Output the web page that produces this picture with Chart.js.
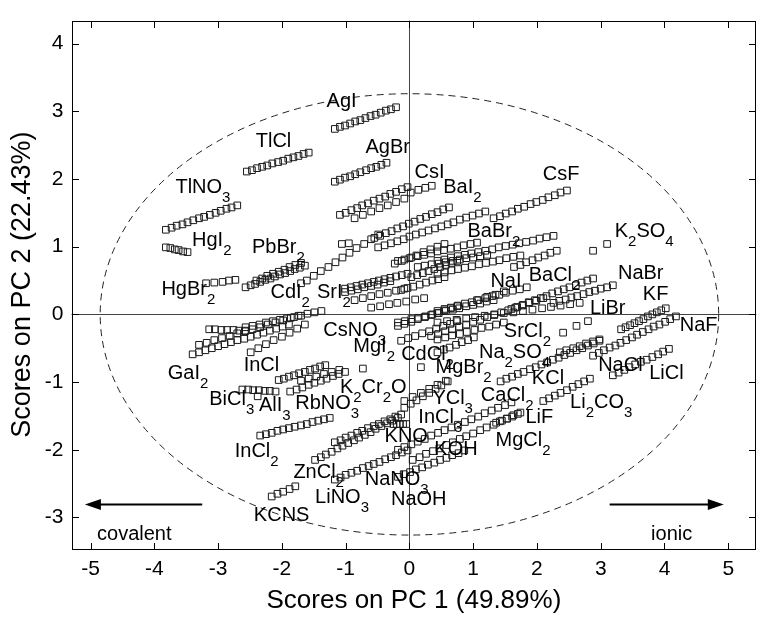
<!DOCTYPE html>
<html>
<head>
<meta charset="utf-8">
<script src="https://cdn.jsdelivr.net/npm/chart.js@4.4.1/dist/chart.umd.min.js"></script>
<style>
  html, body { margin: 0; padding: 0; background: #fff; }
  #wrap { width: 762px; height: 620px; }
</style>
</head>
<body>
<div id="wrap"><canvas id="pca" width="762" height="620"></canvas></div>
<script>
// axes
const xTicks = [-5, -4, -3, -2, -1, 0, 1, 2, 3, 4, 5];
const yTicks = [-3, -2, -1, 0, 1, 2, 3, 4];
const xRange = [-5.3, 5.44];
const yRange = [-3.46, 4.34];

// scores (PC1, PC2)
const sAgI = [[-1.17,2.74],[-1.09,2.77],[-1.01,2.79],[-0.93,2.82],[-0.85,2.85],[-0.77,2.87],[-0.69,2.90],[-0.61,2.93],[-0.53,2.95],[-0.45,2.98],[-0.37,3.01],[-0.29,3.03],[-0.21,3.06]];
const sTlCl = [[-2.55,2.11],[-2.47,2.13],[-2.39,2.16],[-2.31,2.18],[-2.23,2.20],[-2.15,2.23],[-2.06,2.25],[-1.98,2.27],[-1.90,2.30],[-1.82,2.32],[-1.74,2.34],[-1.66,2.37],[-1.58,2.39]];
const sAgBr = [[-1.17,1.96],[-1.09,1.99],[-1.01,2.02],[-0.93,2.04],[-0.85,2.07],[-0.77,2.10],[-0.68,2.13],[-0.60,2.16],[-0.52,2.18],[-0.44,2.21],[-0.36,2.24]];
const sTlNO3 = [[-3.82,1.25],[-3.73,1.28],[-3.65,1.31],[-3.56,1.33],[-3.48,1.36],[-3.39,1.39],[-3.30,1.42],[-3.22,1.44],[-3.13,1.47],[-3.04,1.50],[-2.96,1.53],[-2.87,1.56],[-2.79,1.58],[-2.70,1.61]];
const sHgI2 = [[-3.82,0.99],[-3.75,0.98],[-3.68,0.96],[-3.62,0.95],[-3.55,0.93],[-3.48,0.92]];
const sHgBr2 = [[-3.19,0.46],[-3.06,0.47],[-2.93,0.48],[-2.83,0.50],[-2.73,0.51]];
const sPbBr2a = [[-2.57,0.40],[-2.49,0.43],[-2.42,0.45],[-2.34,0.48],[-2.26,0.51],[-2.18,0.53],[-2.11,0.56],[-2.03,0.59],[-1.95,0.61],[-1.87,0.64],[-1.80,0.67],[-1.72,0.69],[-1.64,0.72]];
const sPbBr2b = [[-2.40,0.50],[-2.31,0.53],[-2.23,0.57],[-2.14,0.60],[-2.05,0.63],[-1.96,0.66],[-1.88,0.70],[-1.79,0.73],[-1.70,0.76]];
const sCsI = [[-1.09,1.47],[-1.00,1.50],[-0.91,1.54],[-0.82,1.57],[-0.74,1.61],[-0.65,1.64],[-0.56,1.68],[-0.47,1.71],[-0.38,1.74],[-0.30,1.78],[-0.21,1.81],[-0.12,1.85],[-0.03,1.88],[0.02,1.80],[0.14,1.84],[0.25,1.87],[0.35,1.90]];
const sCsIlow = [[-0.86,1.42],[-0.73,1.47],[-0.60,1.52],[-0.47,1.57],[-0.34,1.61],[-0.21,1.66],[-0.08,1.71]];
const sPair = [[-1.06,1.04],[-0.95,1.05]];
const sLong = [[-1.70,0.46],[-1.61,0.50],[-1.50,0.57],[-1.39,0.64],[-1.27,0.70],[-1.16,0.77],[-1.05,0.84],[-0.94,0.91],[-0.83,0.98],[-0.71,1.04],[-0.60,1.11],[-0.49,1.18]];
const sRowU = [[-0.55,1.13],[-0.46,1.16],[-0.37,1.20],[-0.28,1.23],[-0.19,1.27],[-0.10,1.30],[-0.01,1.34],[0.08,1.37],[0.17,1.41],[0.26,1.44],[0.35,1.48],[0.44,1.51],[0.53,1.55],[0.62,1.58]];
const sRowB = [[-0.49,0.99],[-0.39,1.02],[-0.29,1.05],[-0.19,1.08],[-0.09,1.11],[0.00,1.15],[0.10,1.18],[0.20,1.21],[0.30,1.24],[0.40,1.27],[0.50,1.30],[0.60,1.33],[0.69,1.36],[0.79,1.40],[0.89,1.43],[0.99,1.46],[1.09,1.49],[1.19,1.52]];
const sCsF = [[1.32,1.42],[1.42,1.45],[1.51,1.49],[1.61,1.52],[1.70,1.56],[1.80,1.59],[1.90,1.63],[1.99,1.66],[2.09,1.69],[2.18,1.73],[2.28,1.76],[2.37,1.80],[2.47,1.83]];
const sRowC = [[-0.18,0.79],[-0.08,0.81],[0.03,0.84],[0.13,0.86],[0.23,0.88],[0.34,0.90],[0.44,0.93],[0.54,0.95],[0.65,0.97],[0.75,0.99],[0.85,1.02],[0.96,1.04],[1.06,1.06]];
const sRowC2 = [[-0.23,0.75],[-0.12,0.79],[0.00,0.83],[0.11,0.87],[0.22,0.92],[0.33,0.96],[0.44,1.00],[0.55,1.04]];
const sRowD = [[0.13,0.70],[0.24,0.72],[0.35,0.74],[0.46,0.75],[0.57,0.77],[0.68,0.79],[0.79,0.81],[0.89,0.83],[1.00,0.84],[1.11,0.86],[1.22,0.88]];
const sRowE = [[0.44,0.79],[0.55,0.81],[0.65,0.84],[0.76,0.86],[0.87,0.88],[0.97,0.90],[1.08,0.92],[1.19,0.94],[1.30,0.96],[1.40,0.99],[1.51,1.01],[1.62,1.03],[1.72,1.05],[1.83,1.07],[1.94,1.09],[2.04,1.12],[2.15,1.14],[2.26,1.16]];
const sRowF = [[1.64,0.70],[1.74,0.73],[1.83,0.77],[1.93,0.80],[2.02,0.84],[2.12,0.87],[2.21,0.91],[2.31,0.94]];
const sRowG = [[0.44,0.60],[0.55,0.62],[0.66,0.65],[0.76,0.67],[0.87,0.69],[0.98,0.71],[1.09,0.74],[1.20,0.76],[1.31,0.78],[1.41,0.80],[1.52,0.83],[1.63,0.85],[1.74,0.87]];
const sSrI2a = [[-1.01,0.38],[-0.92,0.40],[-0.83,0.42],[-0.74,0.44],[-0.65,0.46],[-0.56,0.48],[-0.48,0.50],[-0.39,0.52],[-0.30,0.54],[-0.21,0.56],[-0.12,0.58],[-0.03,0.60]];
const sSrI2b = [[-1.01,0.33],[-0.91,0.35],[-0.81,0.37],[-0.71,0.40],[-0.60,0.42],[-0.50,0.44],[-0.40,0.47],[-0.30,0.49]];
const sM2 = [[-0.86,0.21],[-0.73,0.24],[-0.60,0.27],[-0.47,0.30],[-0.34,0.32],[-0.21,0.35],[-0.08,0.38]];
const sM3 = [[-0.60,0.10],[-0.46,0.12],[-0.32,0.15],[-0.19,0.17],[-0.05,0.19],[0.09,0.22],[0.23,0.24]];
const sM4 = [[0.03,0.55],[0.12,0.58],[0.21,0.61],[0.30,0.64],[0.39,0.67],[0.48,0.70],[0.57,0.73],[0.66,0.76],[0.75,0.79]];
const sM5 = [[-0.13,0.36],[-0.03,0.39],[0.06,0.41],[0.16,0.44],[0.26,0.47],[0.36,0.50],[0.45,0.52],[0.55,0.55]];
const sM6 = [[0.44,0.05],[0.55,0.08],[0.65,0.10],[0.76,0.13],[0.87,0.16],[0.98,0.18],[1.08,0.21],[1.19,0.24],[1.30,0.27],[1.41,0.29],[1.51,0.32],[1.62,0.35],[1.73,0.37],[1.84,0.40]];
const sM7 = [[-0.18,-0.12],[-0.07,-0.10],[0.03,-0.07],[0.14,-0.05],[0.25,-0.03],[0.36,0.00],[0.46,0.02],[0.57,0.05],[0.68,0.07],[0.78,0.09],[0.89,0.12],[1.00,0.14],[1.11,0.16],[1.21,0.19],[1.32,0.21]];
const sM8 = [[0.34,-0.32],[0.45,-0.29],[0.56,-0.25],[0.67,-0.22],[0.78,-0.18],[0.89,-0.15],[1.00,-0.11],[1.11,-0.08],[1.22,-0.04],[1.33,-0.01],[1.44,0.03],[1.55,0.06],[1.66,0.10],[1.77,0.13],[1.88,0.17],[1.99,0.20],[2.10,0.24]];
const sM9 = [[0.44,-0.12],[0.59,-0.10],[0.74,-0.08],[0.89,-0.06],[1.03,-0.04],[1.18,-0.02],[1.33,0.00],[1.48,0.02],[1.63,0.03],[1.78,0.05],[1.93,0.07],[2.08,0.09],[2.22,0.11],[2.37,0.13],[2.52,0.15],[2.67,0.17]];
const sNaI = [[1.06,0.21],[1.22,0.26],[1.35,0.29],[1.48,0.34]];
const sBaCl = [[1.60,0.08],[1.69,0.11],[1.78,0.14],[1.87,0.18],[1.97,0.21],[2.06,0.24],[2.15,0.27],[2.24,0.31],[2.33,0.34],[2.42,0.37],[2.51,0.40],[2.61,0.43],[2.70,0.47],[2.79,0.50],[2.88,0.53]];
const sLiBr = [[2.26,0.17],[2.35,0.20],[2.45,0.22],[2.54,0.25],[2.63,0.27],[2.73,0.30],[2.82,0.33],[2.91,0.35],[3.00,0.38],[3.10,0.40],[3.19,0.43]];
const sK2SO4 = [[2.88,0.94],[3.10,1.04]];
const sKF = [[3.32,-0.22],[3.39,-0.19],[3.46,-0.16],[3.53,-0.13],[3.60,-0.10],[3.67,-0.07],[3.74,-0.03],[3.81,0.00],[3.88,0.03],[3.95,0.06],[4.02,0.09]];
const sNaF = [[2.88,-0.61],[2.97,-0.57],[3.05,-0.53],[3.14,-0.49],[3.23,-0.46],[3.31,-0.42],[3.40,-0.38],[3.49,-0.34],[3.57,-0.30],[3.66,-0.26],[3.75,-0.22],[3.83,-0.18],[3.92,-0.15],[4.01,-0.11],[4.09,-0.07],[4.18,-0.03]];
const sLiCl = [[3.19,-0.90],[3.28,-0.86],[3.37,-0.82],[3.45,-0.78],[3.54,-0.74],[3.63,-0.70],[3.72,-0.67],[3.81,-0.63],[3.90,-0.59],[3.98,-0.55],[4.07,-0.51]];
const sKCl = [[1.43,-0.99],[1.52,-0.95],[1.61,-0.92],[1.70,-0.88],[1.79,-0.85],[1.89,-0.81],[1.98,-0.78],[2.07,-0.74],[2.16,-0.71],[2.25,-0.67],[2.34,-0.64],[2.43,-0.60],[2.52,-0.57],[2.62,-0.53],[2.71,-0.50],[2.80,-0.46],[2.89,-0.43],[2.98,-0.39]];
const sLi2CO3 = [[2.10,-1.28],[2.19,-1.24],[2.28,-1.20],[2.37,-1.16],[2.47,-1.12],[2.56,-1.07],[2.65,-1.03],[2.74,-0.99],[2.83,-0.95]];
const sSrCl2 = [[2.36,-0.56],[2.46,-0.53],[2.57,-0.50],[2.67,-0.47],[2.77,-0.43],[2.88,-0.40],[2.98,-0.37],[2.41,-0.27],[2.62,-0.17],[2.80,-0.10]];
const sMgBr2 = [[0.44,-0.56],[0.54,-0.52],[0.63,-0.49],[0.73,-0.45],[0.82,-0.41],[0.92,-0.38],[1.01,-0.34]];
const sM10 = [[-0.18,-0.17],[-0.08,-0.14],[0.03,-0.11],[0.13,-0.07],[0.24,-0.04],[0.34,-0.01],[0.44,0.02],[0.55,0.06],[0.65,0.09],[0.75,0.12]];
const sM11 = [[-0.13,-0.39],[-0.02,-0.35],[0.09,-0.32],[0.20,-0.28],[0.31,-0.25],[0.42,-0.21],[0.53,-0.17],[0.64,-0.14],[0.75,-0.10]];
const sM12 = [[0.44,-0.37],[0.56,-0.34],[0.67,-0.31],[0.79,-0.29],[0.90,-0.26],[1.02,-0.23],[1.13,-0.20],[1.25,-0.18],[1.36,-0.15],[1.48,-0.12]];
const sSingles = [[0.18,-0.78],[-0.73,-0.80]];
const sG1 = [[-3.40,-0.59],[-3.30,-0.56],[-3.20,-0.53],[-3.10,-0.50],[-3.00,-0.47],[-2.90,-0.44],[-2.80,-0.41],[-2.70,-0.38],[-2.59,-0.36],[-2.49,-0.33],[-2.39,-0.30],[-2.29,-0.27],[-2.19,-0.24],[-2.09,-0.21],[-1.99,-0.18],[-1.89,-0.15]];
const sG2 = [[-3.30,-0.45],[-3.18,-0.42],[-3.06,-0.38],[-2.94,-0.35],[-2.82,-0.32],[-2.70,-0.28],[-2.58,-0.25],[-2.46,-0.22],[-2.34,-0.19],[-2.22,-0.15],[-2.10,-0.12],[-1.98,-0.09],[-1.86,-0.05],[-1.74,-0.02]];
const sG3 = [[-3.14,-0.22],[-3.05,-0.22],[-2.95,-0.23],[-2.86,-0.23],[-2.76,-0.23],[-2.67,-0.24],[-2.57,-0.24]];
const sG4 = [[-2.57,-0.19],[-2.46,-0.17],[-2.35,-0.15],[-2.25,-0.12],[-2.14,-0.10],[-2.03,-0.08],[-1.92,-0.06],[-1.81,-0.04],[-1.70,-0.02],[-1.60,0.01],[-1.49,0.03],[-1.38,0.05]];
const sInCl = [[-2.49,-0.56],[-2.37,-0.50],[-2.25,-0.44],[-2.13,-0.38],[-2.00,-0.33],[-1.88,-0.27],[-1.76,-0.21],[-1.64,-0.15]];
const sBiCl3 = [[-2.62,-1.11],[-2.53,-1.11],[-2.45,-1.12],[-2.36,-1.12],[-2.27,-1.13],[-2.19,-1.13],[-2.10,-1.14],[-2.38,-1.21]];
const sR1 = [[-2.05,-0.97],[-1.97,-0.95],[-1.89,-0.92],[-1.81,-0.90],[-1.73,-0.87],[-1.64,-0.85],[-1.56,-0.82],[-1.48,-0.80],[-1.40,-0.77],[-1.32,-0.75]];
const sR2 = [[-1.87,-1.14],[-1.77,-1.11],[-1.68,-1.08],[-1.58,-1.04],[-1.49,-1.01],[-1.39,-0.98],[-1.30,-0.95],[-1.20,-0.91],[-1.11,-0.88],[-1.01,-0.85]];
const sR3 = [[-1.70,-0.98],[-1.58,-0.95],[-1.46,-0.92],[-1.34,-0.88],[-1.22,-0.85],[-1.10,-0.82]];
const sInCl2 = [[-2.34,-1.79],[-2.25,-1.77],[-2.16,-1.75],[-2.07,-1.72],[-1.98,-1.70],[-1.89,-1.68],[-1.80,-1.66],[-1.70,-1.64],[-1.61,-1.62],[-1.52,-1.59],[-1.43,-1.57],[-1.34,-1.55],[-1.25,-1.53]];
const sZ1 = [[-1.48,-2.15],[-1.39,-2.11],[-1.31,-2.07],[-1.22,-2.03],[-1.13,-1.98],[-1.05,-1.94],[-0.96,-1.90],[-0.87,-1.86],[-0.79,-1.82],[-0.70,-1.78],[-0.61,-1.74],[-0.53,-1.69],[-0.44,-1.65],[-0.35,-1.61],[-0.27,-1.57],[-0.18,-1.53]];
const sZ2 = [[-1.17,-1.89],[-1.08,-1.86],[-1.00,-1.82],[-0.91,-1.79],[-0.82,-1.75],[-0.74,-1.72],[-0.65,-1.68],[-0.56,-1.65],[-0.48,-1.62],[-0.39,-1.58],[-0.30,-1.55],[-0.22,-1.51],[-0.13,-1.48]];
const sKNO = [[-0.25,-1.62],[-0.20,-1.62],[-0.15,-1.62],[-0.10,-1.62],[-0.05,-1.62]];
const sNaNO3 = [[-1.17,-2.44],[-1.08,-2.41],[-1.00,-2.37],[-0.91,-2.34],[-0.82,-2.31],[-0.73,-2.27],[-0.64,-2.24],[-0.56,-2.21],[-0.47,-2.18],[-0.38,-2.14],[-0.29,-2.11],[-0.21,-2.08],[-0.12,-2.04],[-0.03,-2.01]];
const sNaOH = [[-0.18,-2.40],[-0.09,-2.36],[0.01,-2.33],[0.10,-2.29],[0.20,-2.26],[0.29,-2.22],[0.39,-2.19],[0.48,-2.15],[0.58,-2.12],[0.67,-2.08],[0.77,-2.05],[0.86,-2.01]];
const sC1 = [[-0.18,-2.00],[-0.08,-1.96],[0.03,-1.92],[0.13,-1.88],[0.24,-1.84],[0.34,-1.79],[0.45,-1.75],[0.55,-1.71],[0.66,-1.67],[0.76,-1.63],[0.87,-1.59],[0.97,-1.55],[1.08,-1.51],[1.18,-1.46],[1.29,-1.42],[1.39,-1.38],[1.50,-1.34],[1.60,-1.30]];
const sC2 = [[0.05,-2.15],[0.16,-2.11],[0.26,-2.06],[0.37,-2.02],[0.47,-1.98],[0.58,-1.93],[0.68,-1.89],[0.79,-1.84],[0.89,-1.80],[1.00,-1.76],[1.11,-1.71],[1.21,-1.67],[1.32,-1.63],[1.42,-1.58],[1.53,-1.54],[1.63,-1.49],[1.74,-1.45]];
const sLiF = [[1.36,-1.60],[1.45,-1.57],[1.53,-1.54],[1.61,-1.51],[1.70,-1.47]];
const sY1 = [[-0.08,-1.38],[0.02,-1.32],[0.11,-1.27],[0.21,-1.21],[0.31,-1.16],[0.41,-1.10],[0.50,-1.05],[0.60,-0.99]];
const sY2 = [[-0.08,-1.28],[0.05,-1.22],[0.18,-1.16],[0.31,-1.10],[0.44,-1.04],[0.57,-0.98]];
const sKCNS = [[-2.16,-2.69],[-2.07,-2.65],[-1.98,-2.62],[-1.88,-2.58],[-1.79,-2.54]];

const segments = [sAgI, sTlCl, sAgBr, sTlNO3, sHgI2, sHgBr2, sPbBr2a, sPbBr2b, sCsI, sCsIlow, sPair, sLong,
  sRowU, sRowB, sCsF, sRowC, sRowC2, sRowD, sRowE, sRowF, sRowG, sSrI2a, sSrI2b, sM2, sM3, sM4, sM5, sM6,
  sM7, sM8, sM9, sNaI, sBaCl, sLiBr, sK2SO4, sKF, sNaF, sLiCl, sKCl, sLi2CO3, sSrCl2, sMgBr2, sM10, sM11,
  sM12, sSingles, sG1, sG2, sG3, sG4, sInCl, sBiCl3, sR1, sR2, sR3, sInCl2, sZ1, sZ2, sKNO, sNaNO3, sNaOH,
  sC1, sC2, sLiF, sY1, sY2, sKCNS];

// salt names ("_" = subscript) and where their text starts (left, baseline)
const labelText = ['AgI','TlCl','AgBr','TlNO_3','HgI_2','PbBr_2','HgBr_2','CdI_2','SrI_2','CsI','BaI_2','CsF',
  'BaBr_2','K_2SO_4','NaI','BaCl_2','NaBr','KF','LiBr','NaF','SrCl_2','Na_2SO_4','MgBr_2','CdCl_2','KCl','NaCl',
  'LiCl','YCl_3','CaCl_2','Li_2CO_3','InCl_3','LiF','MgCl_2','KOH','NaNO_3','NaOH','CsNO_3','MgI_2','InCl','GaI_2',
  'K_2Cr_2O','BiCl_3','AlI_3','RbNO_3','InCl_2','ZnCl_2','KNO','LiNO_3','KCNS'];
const labelX = [-1.30,-2.41,-0.69,-3.67,-3.41,-2.47,-3.89,-2.18,-1.45,0.08,0.53,2.09,
  0.91,3.22,1.27,1.87,3.27,3.66,2.83,4.24,1.48,1.09,0.41,-0.13,1.92,2.96,
  3.76,0.36,1.12,2.52,0.14,1.82,1.35,0.39,-0.70,-0.29,-1.35,-0.88,-2.60,-3.79,
  -1.09,-3.14,-2.36,-1.79,-2.74,-1.82,-0.39,-1.48,-2.44];
const labelY = [3.07,2.48,2.38,1.79,1.01,0.90,0.29,0.24,0.24,2.01,1.80,1.99,
  1.15,1.14,0.40,0.49,0.53,0.21,0.01,-0.24,-0.34,-0.65,-0.86,-0.68,-1.03,-0.84,
  -0.95,-1.33,-1.28,-1.39,-1.61,-1.61,-1.94,-2.08,-2.52,-2.81,-0.32,-0.56,-0.84,-0.95,
  -1.16,-1.34,-1.42,-1.40,-2.11,-2.42,-1.89,-2.78,-3.05];

// confidence ellipse: centre and half axes
const ellipseCentre = [0, 0];
const ellipseHalf = [4.85, 3.26];

// direction arrows at the bottom
const arrowText = ['covalent', 'ionic'];
const arrowTail = [-3.25, 3.14];
const arrowHead = [-5.09, 4.93];
const arrowY = -2.81;
const arrowTextX = [-4.90, 3.79];
const arrowTextY = -3.33;

const FONT = '"Liberation Sans", Arial, Helvetica, sans-serif';

function drawFormula(ctx, text, px, py) {
  let cx = px;
  text.split(/(_\d)/).forEach(part => {
    if (!part) return;
    if (part[0] === '_') {
      ctx.font = '15px ' + FONT;
      ctx.fillText(part.slice(1), cx, py + 9);
      cx += ctx.measureText(part.slice(1)).width;
    } else {
      ctx.font = '20px ' + FONT;
      ctx.fillText(part, cx, py);
      cx += ctx.measureText(part).width;
    }
  });
}

const decor = {
  id: 'decor',
  beforeDatasetsDraw(chart) {
    const { ctx, chartArea: a, scales: { x, y } } = chart;
    ctx.save();
    // zero lines
    const x0 = Math.round(x.getPixelForValue(0)) + 0.5;
    const y0 = Math.round(y.getPixelForValue(0)) + 0.5;
    ctx.strokeStyle = '#444';
    ctx.lineWidth = 1;
    ctx.beginPath();
    ctx.moveTo(a.left, y0); ctx.lineTo(a.right, y0);
    ctx.moveTo(x0, a.top); ctx.lineTo(x0, a.bottom);
    ctx.stroke();
    // dashed ellipse
    const ex = x.getPixelForValue(ellipseCentre[0]);
    const ey = y.getPixelForValue(ellipseCentre[1]);
    const rx = x.getPixelForValue(ellipseCentre[0] + ellipseHalf[0]) - ex;
    const ry = ey - y.getPixelForValue(ellipseCentre[1] + ellipseHalf[1]);
    ctx.setLineDash([7, 5]);
    ctx.strokeStyle = '#222';
    ctx.beginPath();
    ctx.ellipse(ex, ey, rx, ry, 0, 0, Math.PI * 2);
    ctx.stroke();
    ctx.restore();
  },
  afterDatasetsDraw(chart) {
    const { ctx, chartArea: a, scales: { x, y } } = chart;
    ctx.save();
    ctx.fillStyle = '#000';
    ctx.textAlign = 'left';
    ctx.textBaseline = 'alphabetic';
    labelText.forEach((t, i) => {
      drawFormula(ctx, t, x.getPixelForValue(labelX[i]), y.getPixelForValue(labelY[i]));
    });

    // arrows
    const ay = y.getPixelForValue(arrowY);
    ctx.strokeStyle = '#000';
    ctx.lineWidth = 2;
    arrowText.forEach((t, i) => {
      const tx = x.getPixelForValue(arrowTail[i]);
      const hx = x.getPixelForValue(arrowHead[i]);
      const dir = Math.sign(hx - tx);
      ctx.beginPath();
      ctx.moveTo(tx, ay);
      ctx.lineTo(hx - dir * 12, ay);
      ctx.stroke();
      ctx.beginPath();
      ctx.moveTo(hx, ay);
      ctx.lineTo(hx - dir * 16, ay - 5.5);
      ctx.lineTo(hx - dir * 16, ay + 5.5);
      ctx.closePath();
      ctx.fill();
      ctx.font = '20px ' + FONT;
      ctx.fillText(t, x.getPixelForValue(arrowTextX[i]), y.getPixelForValue(arrowTextY));
    });

    // box with inward ticks on all sides
    ctx.lineWidth = 1;
    ctx.strokeStyle = '#000';
    const L = Math.round(a.left) + 0.5, R = Math.round(a.right) - 0.5;
    const T = Math.round(a.top) + 0.5, B = Math.round(a.bottom) + 0.5;
    ctx.strokeRect(L, T, R - L, B - T);
    const tl = 6.5;
    ctx.beginPath();
    xTicks.forEach(v => {
      const px = Math.round(x.getPixelForValue(v)) + 0.5;
      ctx.moveTo(px, B); ctx.lineTo(px, B - tl);
      ctx.moveTo(px, T); ctx.lineTo(px, T + tl);
    });
    yTicks.forEach(v => {
      const py = Math.round(y.getPixelForValue(v)) + 0.5;
      ctx.moveTo(L, py); ctx.lineTo(L + tl, py);
      ctx.moveTo(R, py); ctx.lineTo(R - tl, py);
    });
    ctx.stroke();
    ctx.restore();
  }
};

const points = segments.flat().map(p => ({ x: p[0], y: p[1] }));

new Chart(document.getElementById('pca'), {
  type: 'scatter',
  data: {
    datasets: [{
      data: points,
      pointStyle: 'rect',
      pointRadius: 4.7,
      borderColor: '#1a1a1a',
      borderWidth: 1,
      backgroundColor: 'rgba(0,0,0,0)'
    }]
  },
  options: {
    responsive: false,
    animation: false,
    layout: { padding: { top: 12, right: 1, left: 0, bottom: 0 } },
    plugins: { legend: { display: false }, tooltip: { enabled: false } },
    scales: {
      x: {
        type: 'linear',
        min: xRange[0],
        max: xRange[1],
        afterBuildTicks: s => { s.ticks = xTicks.map(v => ({ value: v })); },
        afterFit: s => { s.height = 71.4; },
        grid: { display: false, drawTicks: false },
        border: { display: false },
        ticks: { color: '#000', padding: 8, font: { family: FONT, size: 21 }, callback: v => String(v) },
        title: { display: true, text: 'Scores on PC 1 (49.89%)', color: '#000',
                 font: { family: FONT, size: 26 }, padding: { top: 0, bottom: 4 } }
      },
      y: {
        type: 'linear',
        min: yRange[0],
        max: yRange[1],
        afterBuildTicks: s => { s.ticks = yTicks.map(v => ({ value: v })); },
        afterFit: s => { s.width = 71.5; },
        grid: { display: false, drawTicks: false },
        border: { display: false },
        ticks: { color: '#000', padding: 8, font: { family: FONT, size: 21 }, callback: v => String(v) },
        title: { display: true, text: 'Scores on PC 2 (22.43%)', color: '#000',
                 font: { family: FONT, size: 27 }, padding: { top: 6, bottom: 0 } }
      }
    }
  },
  plugins: [decor]
});
</script>
</body>
</html>
